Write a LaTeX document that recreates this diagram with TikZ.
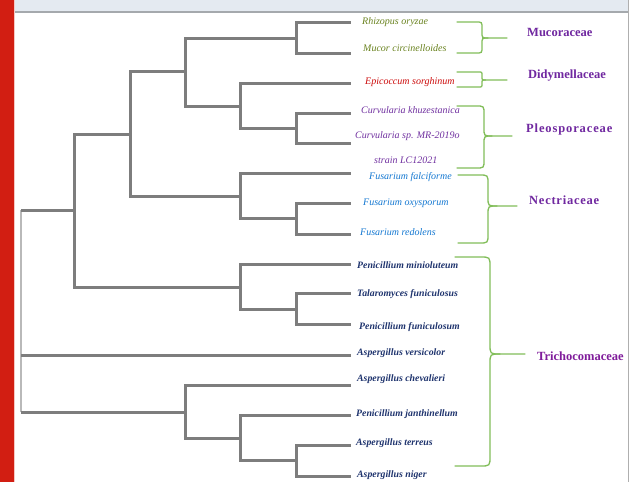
\documentclass[tikz,border=0pt]{standalone}
\usepackage{fontspec}
\setmainfont{Liberation Serif}
\definecolor{bandc}{RGB}{228,234,241}
\definecolor{bandline}{RGB}{165,169,173}
\definecolor{redbar}{RGB}{210,30,18}
\definecolor{pinkline}{RGB}{245,200,195}
\definecolor{edgec}{RGB}{175,175,175}
\definecolor{treec}{RGB}{125,125,125}
\definecolor{rootc}{RGB}{185,185,185}
\definecolor{bracec}{RGB}{130,190,90}
\definecolor{olivec}{RGB}{105,130,30}
\definecolor{redc}{RGB}{204,10,10}
\definecolor{purplec}{RGB}{112,48,160}
\definecolor{bluec}{RGB}{20,120,210}
\definecolor{navyc}{RGB}{31,52,110}
\definecolor{famc}{RGB}{112,40,160}
\definecolor{famc2}{RGB}{128,28,155}
\newcommand{\famBrace}[7]{%
  \draw[bracestyle] (#1,#4) -- ({#2-#7},#4) .. controls (#2,#4) .. (#2,{#4+#7})
    -- (#2,{#5-#7}) .. controls (#2,#5) .. ({#2+#7},#5) -- (#3,#5);
  \draw[bracestyle] ({#2+#7},#5) .. controls (#2,#5) .. (#2,{#5+#7})
    -- (#2,{#6-#7}) .. controls (#2,#6) .. ({#2-#7},#6) -- (#1,#6);}
\begin{document}
\begin{tikzpicture}[x=1pt,y=-1pt,
  branch/.style={draw=treec,line width=3pt,line join=miter},
  rootline/.style={draw=rootc,line width=1.8pt},
  bracestyle/.style={draw=bracec,line width=1.3pt,line cap=round},
  leaf/.style={anchor=west,inner sep=0pt,font=\fontsize{10}{12}\selectfont\itshape},
  leafb/.style={leaf,font=\fontsize{9.8}{12}\selectfont\bfseries\itshape},
  fam/.style={anchor=west,inner sep=0pt,text=famc,font=\fontsize{12.5}{14}\selectfont\bfseries}]
\useasboundingbox (0,0) rectangle (630,482);
\fill[white] (0,0) rectangle (630,482);
\fill[bandc] (14,0) rectangle (628,11);
\draw[bandline,line width=2pt] (14,12) -- (628,12);
\fill[redbar] (0,0) rectangle (14,482);
\draw[pinkline,line width=1pt] (14.5,0) -- (14.5,482);
\draw[edgec,line width=1.5pt] (628.5,0) -- (628.5,482);
% tree coordinates
\coordinate (r1) at (21,210);
\coordinate (rm) at (21,355);
\coordinate (r3) at (21,412);
\coordinate (A) at (74,210);
\coordinate (B) at (130,134);
\coordinate (C) at (185,71);
\coordinate (D) at (296,38);
\coordinate (E) at (240,106);
\coordinate (F) at (296,128);
\coordinate (G) at (240,196);
\coordinate (H) at (296,218);
\coordinate (I) at (240,287);
\coordinate (J) at (296,309);
\coordinate (K) at (185,412);
\coordinate (L) at (240,438);
\coordinate (M) at (296,460);
\coordinate (l1) at (351,22);
\coordinate (l2) at (351,53);
\coordinate (l3) at (351,83);
\coordinate (l4) at (351,113);
\coordinate (l5) at (351,143);
\coordinate (l6) at (351,173);
\coordinate (l7) at (351,203);
\coordinate (l8) at (351,234);
\coordinate (l9) at (351,264);
\coordinate (l10) at (351,293);
\coordinate (l11) at (351,324);
\coordinate (l12) at (351,355);
\coordinate (l13) at (351,385);
\coordinate (l14) at (351,415);
\coordinate (l15) at (351,445);
\coordinate (l16) at (351,476);
% tree
\draw[rootline] (r1) -- (r3);
\draw[branch] (r1) -- (A);
\draw[branch] (rm) -- (l12);
\draw[branch] (r3) -- (K);
\draw[branch] (A) |- (B);
\draw[branch] (A) |- (I);
\draw[branch] (B) |- (C);
\draw[branch] (B) |- (G);
\draw[branch] (C) |- (D);
\draw[branch] (C) |- (E);
\draw[branch] (D) |- (l1);
\draw[branch] (D) |- (l2);
\draw[branch] (E) |- (l3);
\draw[branch] (E) |- (F);
\draw[branch] (F) |- (l4);
\draw[branch] (F) |- (l5);
\draw[branch] (G) |- (l6);
\draw[branch] (G) |- (H);
\draw[branch] (H) |- (l7);
\draw[branch] (H) |- (l8);
\draw[branch] (I) |- (l9);
\draw[branch] (I) |- (J);
\draw[branch] (J) |- (l10);
\draw[branch] (J) |- (l11);
\draw[branch] (K) |- (l13);
\draw[branch] (K) |- (L);
\draw[branch] (L) |- (l14);
\draw[branch] (L) |- (M);
\draw[branch] (M) |- (l15);
\draw[branch] (M) |- (l16);
% leaf labels
\node[leaf,text=olivec] (t1) at (362,22) {Rhizopus oryzae};
\node[leaf,text=olivec] (t2) at (363,48) {Mucor circinelloides};
\node[leaf,text=redc] (t3) at (365,82) {Epicoccum sorghinum};
\node[leaf,text=purplec] (t4) at (361,110) {Curvularia khuzestanica};
\node[leaf,text=purplec] (t5) at (355,136) {Curvularia sp. MR-2019o};
\node[leaf,text=purplec] (t6) at (374,160) {strain LC12021};
\node[leaf,text=bluec] (t7) at (369,177) {Fusarium falciforme};
\node[leaf,text=bluec] (t8) at (363,203) {Fusarium oxysporum};
\node[leaf,text=bluec] (t9) at (360,232) {Fusarium redolens};
\node[leafb,text=navyc] (t10) at (357,265) {Penicillium minioluteum};
\node[leafb,text=navyc] (t11) at (357,294) {Talaromyces funiculosus};
\node[leafb,text=navyc] (t12) at (359,327) {Penicillium funiculosum};
\node[leafb,text=navyc] (t13) at (357,353) {Aspergillus versicolor};
\node[leafb,text=navyc] (t14) at (357,379) {Aspergillus chevalieri};
\node[leafb,text=navyc] (t15) at (356,414) {Penicillium janthinellum};
\node[leafb,text=navyc] (t16) at (356,443) {Aspergillus terreus};
\node[leafb,text=navyc] (t17) at (357,475) {Aspergillus niger};
% braces
\famBrace{457}{482}{507}{22}{38}{53}{6}
\famBrace{457}{482}{507}{72}{80}{87}{3.5}
\famBrace{457}{484}{512}{106}{136}{168}{8}
\famBrace{458}{488}{517}{175}{206}{243}{9}
\famBrace{455}{490}{525}{257}{354}{466}{10}
% family labels
\node[fam] (f1) at (527,32) {Mucoraceae};
\node[fam] (f2) at (528,76) {Didymellaceae};
\node[fam] (f3) at (526,129) {\addfontfeature{LetterSpace=7}Pleosporaceae};
\node[fam] (f4) at (529,200) {\addfontfeature{LetterSpace=6}Nectriaceae};
\node[fam,text=famc2] (f5) at (537,356) {Trichocomaceae};
\end{tikzpicture}
\end{document}
